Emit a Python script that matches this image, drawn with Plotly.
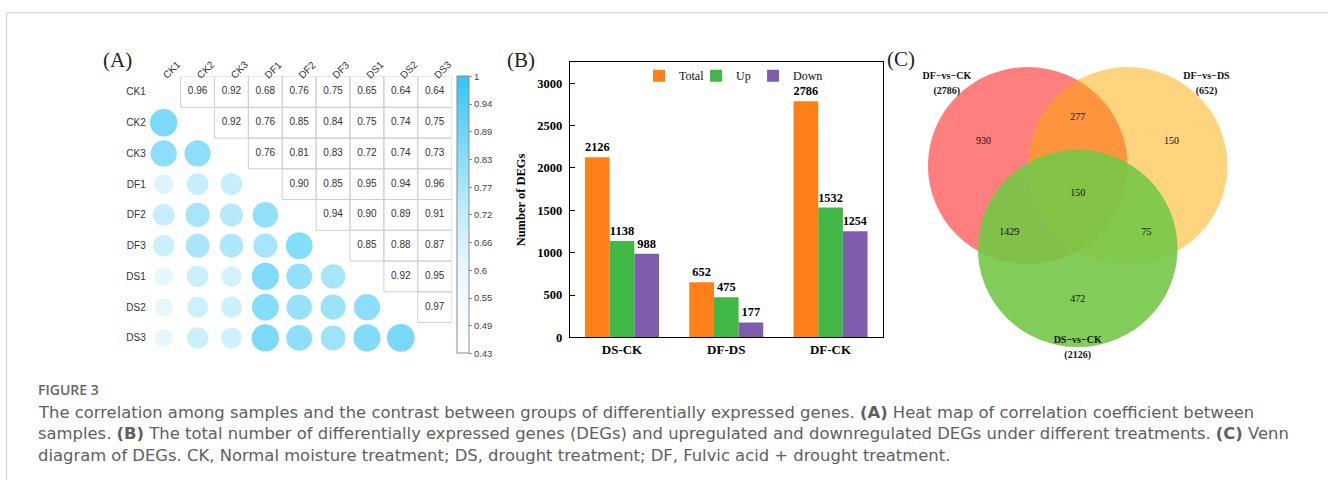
import numpy as np
import plotly.graph_objects as go

W, H = 1330, 497

# ---------------- data ----------------
samples = ["CK1", "CK2", "CK3", "DF1", "DF2", "DF3", "DS1", "DS2", "DS3"]
# upper-triangle correlations, row by row (row i, columns i+1 .. 8)
corr_upper = [
    [0.96, 0.92, 0.68, 0.76, 0.75, 0.65, 0.64, 0.64],
    [0.92, 0.76, 0.85, 0.84, 0.75, 0.74, 0.75],
    [0.76, 0.81, 0.83, 0.72, 0.74, 0.73],
    [0.90, 0.85, 0.95, 0.94, 0.96],
    [0.94, 0.90, 0.89, 0.91],
    [0.85, 0.88, 0.87],
    [0.92, 0.95],
    [0.97],
]
colorbar_ticktext = ["0.43", "0.49", "0.55", "0.6", "0.66", "0.72", "0.77",
                     "0.83", "0.89", "0.94", "1"]

comparisons = ["DS-CK", "DF-DS", "DF-CK"]
deg_total = [2126, 652, 2786]
deg_up = [1138, 475, 1532]
deg_down = [988, 177, 1254]

venn_sets = ["DF\u2212vs\u2212CK", "DF\u2212vs\u2212DS", "DS\u2212vs\u2212CK"]
venn_regions = ["A", "B", "C", "AB", "AC", "BC", "ABC"]
venn_counts = [930, 150, 472, 277, 1429, 75, 150]

caption_title = "FIGURE 3"
caption_lines = [
    "The correlation among samples and the contrast between groups of differentially expressed genes. <b>(A)</b> Heat map of correlation coefficient between",
    "samples. <b>(B)</b> The total number of differentially expressed genes (DEGs) and upregulated and downregulated DEGs under different treatments. <b>(C)</b> Venn",
    "diagram of DEGs. CK, Normal moisture treatment; DS, drought treatment; DF, Fulvic acid + drought treatment.",
]

# ---------------- helpers ----------------
def px_x(p):
    return p / W

def px_y(p):
    return 1 - p / H

n = len(samples)
M = np.ones((n, n))
for i, row in enumerate(corr_upper):
    for k, v in enumerate(row):
        j = i + 1 + k
        M[i, j] = v
        M[j, i] = v

SERIF = "Liberation Serif, Times New Roman, serif"
SANS = "Liberation Sans, Arial, sans-serif"
CAP = "DejaVu Sans, sans-serif"

fig = go.Figure()
shapes = []

# ---------------- panel A ----------------
lx, ly, lv = [], [], []
ux, uy, ut = [], [], []
for i in range(n):
    for j in range(n):
        if i > j:
            lx.append(j); ly.append(i); lv.append(M[i, j])
        elif j > i:
            ux.append(j); uy.append(i); ut.append(f"{M[i, j]:.2f}")
            shapes.append(dict(type="rect", xref="x", yref="y",
                               x0=j - 0.5, x1=j + 0.5, y0=i - 0.5, y1=i + 0.5,
                               line=dict(color="#cfcfcf", width=1),
                               fillcolor="rgba(0,0,0,0)", layer="below"))

fig.add_trace(go.Scatter(
    x=lx, y=ly, mode="markers", xaxis="x", yaxis="y", showlegend=False,
    marker=dict(size=[28.5 * v for v in lv], color=lv, coloraxis="coloraxis",
                line=dict(width=0)),
    hoverinfo="skip"))
fig.add_trace(go.Scatter(
    x=ux, y=uy, mode="text", text=ut, xaxis="x", yaxis="y", showlegend=False,
    textfont=dict(family=SANS, size=10, color="#333333"), hoverinfo="skip"))

cmin, cmax = 0.43, 1.0
colorscale = [
    [0.0, "#FFFFFF"],
    [0.3, "#EAF8FE"],
    [0.56, "#B4E9FB"],
    [0.74, "#7FDAF9"],
    [1.0, "#30C5F6"],
]

# ---------------- panel B ----------------
bar_font = dict(family=SERIF, size=12.5, color="#000000", weight="bold")
for name, vals, col in [("Total", deg_total, "#FF8019"),
                        ("Up", deg_up, "#41B846"),
                        ("Down", deg_down, "#7F5DAE")]:
    fig.add_trace(go.Bar(
        x=comparisons, y=vals, name=name, xaxis="x2", yaxis="y2",
        marker=dict(color=col, line=dict(width=0)),
        text=[str(v) for v in vals], textposition="outside",
        textfont=bar_font, cliponaxis=False))
# invisible spacer entry so the last legend label is not clipped
fig.add_trace(go.Scatter(x=[None], y=[None], name=" ", mode="markers",
                         xaxis="x2", yaxis="y2",
                         marker=dict(color="rgba(0,0,0,0)", size=1,
                                     line=dict(width=0)),
                         hoverinfo="skip"))

# ---------------- panel C ----------------
venn_centers = {"A": (-0.5, 0.42), "B": (0.5, 0.42), "C": (0.0, -0.42)}
venn_r = 1.0
venn_fill = {"A": "rgba(255,0,0,0.5)", "B": "rgba(255,170,0,0.5)",
             "C": "rgba(116,200,71,0.9)"}
for key in ["A", "B", "C"]:
    cx, cy = venn_centers[key]
    shapes.append(dict(type="circle", xref="x3", yref="y3",
                       x0=cx - venn_r, x1=cx + venn_r, y0=cy - venn_r, y1=cy + venn_r,
                       fillcolor=venn_fill[key], line=dict(width=0), layer="below"))

region_pos = {"A": (-0.943, 0.66), "B": (0.94, 0.66), "C": (0.0, -0.933),
              "AB": (0.0, 0.907), "AC": (-0.686, -0.26), "BC": (0.69, -0.26),
              "ABC": (0.0, 0.133)}
fig.add_trace(go.Scatter(
    x=[region_pos[r][0] for r in venn_regions],
    y=[region_pos[r][1] for r in venn_regions],
    text=[str(c) for c in venn_counts], mode="text", xaxis="x3", yaxis="y3",
    showlegend=False, hoverinfo="skip",
    textfont=dict(family=SERIF, size=10, color="#111111")))

set_totals = []
for s in ["A", "B", "C"]:
    set_totals.append(sum(c for r, c in zip(venn_regions, venn_counts) if s in r))
set_pos = [(-1.31, 1.327), (1.29, 1.327), (0.0, -1.35)]
sx, sy, st = [], [], []
for (x, y), nm, tot in zip(set_pos, venn_sets, set_totals):
    sx += [x, x]; sy += [y, y - 0.155]; st += [nm, f"({tot})"]
fig.add_trace(go.Scatter(
    x=sx, y=sy, text=st, mode="text", xaxis="x3", yaxis="y3",
    showlegend=False, hoverinfo="skip",
    textfont=dict(family=SERIF, size=10, color="#111111", weight="bold")))

# ---------------- annotations ----------------
ann = []
for lab, (x, y) in [("(A)", (118, 61)), ("(B)", (522, 61)), ("(C)", (902, 60))]:
    ann.append(dict(text=lab, x=px_x(x), y=px_y(y), xref="paper", yref="paper",
                    xanchor="center", yanchor="middle", showarrow=False,
                    font=dict(family=SERIF, size=21, color="#222222")))
ann.append(dict(text=caption_title, x=px_x(36), y=px_y(395), xref="paper", yref="paper",
                xanchor="left", yanchor="middle", showarrow=False,
                font=dict(family="Open Sans, sans-serif", size=14, color="#666666",
                          weight=600)))
for k, line in enumerate(caption_lines):
    ann.append(dict(text=line, x=px_x(36), y=px_y(418 + 22 * k), xref="paper",
                    yref="paper", xanchor="left", yanchor="middle", showarrow=False,
                    font=dict(family=CAP, size=16.4, color="#606060")))

# frame lines of the figure box
shapes.append(dict(type="line", xref="paper", yref="paper", x0=px_x(6.5), x1=1.0,
                   y0=px_y(13), y1=px_y(13), line=dict(color="#cccccc", width=1)))
shapes.append(dict(type="line", xref="paper", yref="paper", x0=px_x(6.5), x1=px_x(6.5),
                   y0=px_y(13), y1=px_y(487), line=dict(color="#cccccc", width=1)))

fig.update_layout(
    width=W, height=H, margin=dict(l=0, r=0, t=0, b=0),
    paper_bgcolor="white", plot_bgcolor="white",
    barmode="group", bargap=0.29, bargroupgap=0,
    shapes=shapes, annotations=ann,
    coloraxis=dict(
        cmin=cmin, cmax=cmax, colorscale=colorscale,
        colorbar=dict(
            x=px_x(457.7), xanchor="left", xpad=0, ypad=0,
            y=px_y(218), yanchor="middle", len=(358.3 - 77.7) / H, lenmode="fraction",
            thickness=12, thicknessmode="pixels",
            outlinewidth=1, outlinecolor="#8a8a8a",
            ticks="outside", ticklen=3, tickcolor="#8a8a8a",
            tickvals=list(np.linspace(cmin, cmax, len(colorbar_ticktext))),
            ticktext=colorbar_ticktext,
            tickfont=dict(family=SANS, size=9.5, color="#444444"))),
    xaxis=dict(domain=[px_x(147), px_x(452.3)], range=[-0.5, n - 0.5], side="top",
               tickvals=list(range(n)), ticktext=samples, tickangle=-45,
               ticklabelstandoff=-7,
               showgrid=False, zeroline=False, showline=False, ticks="",
               tickfont=dict(family=SANS, size=10, color="#333333"), anchor="y"),
    yaxis=dict(domain=[px_y(358.3), px_y(77.7)], range=[n - 0.5, -0.5],
               tickvals=list(range(n)), ticktext=samples,
               showgrid=False, zeroline=False, showline=False, ticks="",
               tickfont=dict(family=SANS, size=10, color="#333333"), anchor="x"),
    xaxis2=dict(domain=[px_x(570.7), px_x(884)], range=[-0.5, 2.5], anchor="y2",
                showline=True, mirror=True, linecolor="#000000", linewidth=1.3,
                showgrid=False, zeroline=False, ticks="",
                tickfont=dict(family=SERIF, size=13, color="#000000", weight="bold")),
    yaxis2=dict(domain=[px_y(342.3), px_y(63.3)], range=[0, 3245], anchor="x2",
                showline=True, mirror=True, linecolor="#000000", linewidth=1.3,
                showgrid=False, zeroline=False, ticks="inside", ticklen=5,
                tickcolor="#000000", dtick=500, ticklabelstandoff=4,
                tickfont=dict(family=SERIF, size=12.5, color="#000000", weight="bold"),
                title=dict(text="Number of DEGs", standoff=8,
                           font=dict(family=SERIF, size=12.5, color="#000000",
                                     weight="bold"))),
    xaxis3=dict(domain=[px_x(900), px_x(1260)], range=[-1.793, 1.807], anchor="y3",
                visible=False),
    yaxis3=dict(domain=[px_y(380), px_y(40)], range=[-1.7, 1.7], anchor="x3",
                visible=False),
    legend=dict(orientation="h", x=px_x(640), y=px_y(62), xanchor="left",
                yanchor="top", bgcolor="rgba(0,0,0,0)",
                font=dict(family=SERIF, size=12, color="#111111"),
                itemwidth=30, entrywidth=12, entrywidthmode="pixels",
                traceorder="normal"),
)

fig.write_html("out.html", config={"displayModeBar": False},
               post_script="document.body.style.margin='0';")
